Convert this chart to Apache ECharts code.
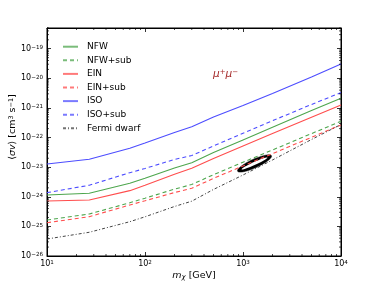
<!DOCTYPE html>
<html><head><meta charset="utf-8">
<script src="https://cdn.jsdelivr.net/npm/echarts@6/dist/echarts.min.js"></script>
<style>html,body{margin:0;padding:0;background:#fff}#c{width:379px;height:285px}</style>
</head><body><div id="c"></div>
<script>
// ---- data ----
const masses = [10, 27, 70, 100, 200, 300, 500, 1000, 2000, 5000, 10000];
const nfw    = [1.15e-24, 1.31e-24, 2.86e-24, 4.25e-24, 9.4e-24, 1.42e-23, 3.11e-23, 8.3e-23, 2.23e-22, 8.2e-22, 2.13e-21];
const nfwSub = [1.64e-25, 2.62e-25, 6.3e-25, 8.97e-25, 1.81e-24, 2.61e-24, 5.58e-24, 1.47e-23, 3.81e-23, 1.36e-22, 3.56e-22];
const ein    = [7.2e-25, 7.8e-25, 1.61e-24, 2.47e-24, 5.8e-24, 9.2e-24, 1.97e-23, 5.16e-23, 1.36e-22, 4.86e-22, 1.26e-21];
const einSub = [1.33e-25, 2.13e-25, 5.28e-25, 7.3e-25, 1.39e-24, 1.94e-24, 4.19e-24, 1.10e-23, 2.86e-23, 1.02e-22, 2.67e-22];
const iso    = [1.28e-23, 1.85e-23, 4.36e-23, 6.58e-23, 1.49e-22, 2.33e-22, 4.97e-22, 1.21e-21, 3.09e-21, 1.11e-20, 3.06e-20];
const isoSub = [1.38e-24, 2.45e-24, 6.52e-24, 9.04e-24, 1.82e-23, 2.48e-23, 5.2e-23, 1.40e-22, 3.70e-22, 1.31e-21, 3.29e-21];
const fermi  = [3.75e-26, 6.33e-26, 1.44e-25, 2.11e-25, 4.7e-25, 7.1e-25, 1.77e-24, 5.44e-24, 1.75e-23, 8.6e-23, 2.77e-22];
// best-fit contour: ends of its long axis
const fitMass  = [889, 1932];
const fitSigma = [7.45e-24, 2.39e-23];
// axes
const xTickExp = [1, 2, 3, 4];
const yTickExp = [-26, -25, -24, -23, -22, -21, -20, -19];
const yTopExp = -18.3;
const seriesNames = ['NFW', 'NFW+sub', 'EIN', 'EIN+sub', 'ISO', 'ISO+sub', 'Fermi dwarf'];

const FONT = 'DejaVu Sans';
const chart = echarts.init(document.getElementById('c'), null, {renderer: 'canvas'});

function sup(exp) {
  return '{b|10}{s|' + String(exp).replace('-', '\u2212') + '}';
}
const supRich = {
  b: {fontSize: 8, fontFamily: FONT, color: '#000', padding: [3, 0, 0, 0], verticalAlign: 'bottom', lineHeight: 8},
  s: {fontSize: 5.6, fontFamily: FONT, color: '#000', verticalAlign: 'top', lineHeight: 6}
};

function mk(name, vals, color, type, width) {
  return {
    name: name, type: 'line', symbol: 'none', showSymbol: false, z: 3,
    data: masses.map((m, i) => [m, Math.log10(vals[i])]),
    lineStyle: {color: color, width: width || 1.1, type: type},
    itemStyle: {color: color}
  };
}

// minor tick positions (axis decoration)
const xMinor = [];
for (let e = xTickExp[0]; e < xTickExp[xTickExp.length - 1]; e++)
  for (let k = 2; k <= 9; k++) xMinor.push([k * Math.pow(10, e), yTickExp[0]]);
const yMinor = [];
for (let e = yTickExp[0]; e <= yTickExp[yTickExp.length - 1]; e++)
  for (let k = 2; k <= 9; k++) { const v = e + Math.log10(k); if (v < yTopExp) yMinor.push([10, v]); }

const tickLine = {stroke: '#000', lineWidth: 0.7};

const option = {
  animation: false,
  backgroundColor: '#fff',
  grid: {left: 47, right: 38, top: 28, bottom: 29, show: true, borderColor: '#000', borderWidth: 1, backgroundColor: 'transparent'},
  xAxis: [
    {type: 'log', logBase: 10, min: 10, max: 10000, interval: 1,
     axisLine: {show: true, lineStyle: {color: '#000', width: 1}},
     axisTick: {show: true, inside: true, length: 4, lineStyle: {color: '#000', width: 0.8}},
     splitLine: {show: false}, minorTick: {show: false},
     axisLabel: {margin: 4, formatter: v => sup(Math.round(Math.log10(v))), rich: supRich}},
    {type: 'log', logBase: 10, min: 10, max: 10000, interval: 1, position: 'top',
     axisLine: {show: true, lineStyle: {color: '#000', width: 1}},
     axisTick: {show: true, inside: true, length: 4, lineStyle: {color: '#000', width: 0.8}},
     splitLine: {show: false}, axisLabel: {show: false}}
  ],
  yAxis: [
    {type: 'value', min: yTickExp[0], max: yTopExp, interval: 1,
     axisLine: {show: true, lineStyle: {color: '#000', width: 1}},
     axisTick: {show: true, inside: true, length: 4, lineStyle: {color: '#000', width: 0.8}},
     splitLine: {show: false},
     axisLabel: {margin: 4, showMaxLabel: false,
       formatter: v => (Math.abs(v - Math.round(v)) < 1e-6 ? sup(Math.round(v)) : ''), rich: supRich}},
    {type: 'value', min: yTickExp[0], max: yTopExp, interval: 1, position: 'right',
     axisLine: {show: true, lineStyle: {color: '#000', width: 1}},
     axisTick: {show: true, inside: true, length: 4, lineStyle: {color: '#000', width: 0.8}},
     splitLine: {show: false}, axisLabel: {show: false}}
  ],
  legend: {
    data: seriesNames, orient: 'vertical', left: 57, top: 36.7,
    itemWidth: 15, itemHeight: 10, itemGap: 3.6,
    itemStyle: {opacity: 0},
    lineStyle: {opacity: 0.75},
    textStyle: {fontSize: 9, fontFamily: FONT, color: '#000', padding: [0, 0, 0, 4], lineHeight: 10},
    selectedMode: false
  },
  series: [
    {type: 'custom', silent: true, z: 1, clip: false,
     dimensions: ['m1', 'v1', 'm2', 'v2'], encode: {x: [0, 2], y: [1, 3]},
     data: [[fitMass[0], Math.log10(fitSigma[0]), fitMass[1], Math.log10(fitSigma[1])]],
     renderItem: function (params, api) {
       const p1 = api.coord([api.value(0), api.value(1)]);
       const p2 = api.coord([api.value(2), api.value(3)]);
       const cx = (p1[0] + p2[0]) / 2, cy = (p1[1] + p2[1]) / 2;
       const th = Math.atan2(p1[1] - p2[1], p2[0] - p1[0]);
       const L = Math.hypot(p2[0] - p1[0], p2[1] - p1[1]) / 2;
       function ell(rx, ry) {
         const pts = [];
         for (let i = 0; i < 48; i++) {
           const t = i / 48 * Math.PI * 2;
           const a = rx * Math.cos(t), b = ry * Math.sin(t);
           pts.push([cx + a * Math.cos(th) + b * Math.sin(th), cy - a * Math.sin(th) + b * Math.cos(th)]);
         }
         return pts;
       }
       return {type: 'group', children: [
         {type: 'polygon', shape: {points: ell(L + 0.5, 4.3)}, style: {fill: '#000', stroke: '#000', lineWidth: 0.5}},
         {type: 'polygon', shape: {points: ell(L - 4, 1.5)}, style: {fill: '#fff'}}
       ]};
     }},
    mk('NFW', nfw, '#4da64d', 'solid'),
    mk('NFW+sub', nfwSub, '#4da64d', [4, 3]),
    mk('EIN', ein, '#ff4d4d', 'solid'),
    mk('EIN+sub', einSub, '#ff4d4d', [4, 3]),
    mk('ISO', iso, '#4d4dff', 'solid'),
    mk('ISO+sub', isoSub, '#4d4dff', [4, 3]),
    mk('Fermi dwarf', fermi, '#444', [3, 2, 1, 2], 1),
    {type: 'custom', silent: true, z: 5, clip: false, data: xMinor,
     renderItem: function (params, api) {
       const p = api.coord([api.value(0), api.value(1)]);
       const cs = params.coordSys;
       const b = cs.y + cs.height, t = cs.y;
       return {type: 'group', children: [
         {type: 'line', shape: {x1: p[0], y1: b, x2: p[0], y2: b - 2}, style: tickLine},
         {type: 'line', shape: {x1: p[0], y1: t, x2: p[0], y2: t + 2}, style: tickLine}
       ]};
     }},
    {type: 'custom', silent: true, z: 5, clip: false, data: yMinor,
     renderItem: function (params, api) {
       const p = api.coord([api.value(0), api.value(1)]);
       const cs = params.coordSys;
       const l = cs.x, r = cs.x + cs.width;
       return {type: 'group', children: [
         {type: 'line', shape: {x1: l, y1: p[1], x2: l + 2, y2: p[1]}, style: tickLine},
         {type: 'line', shape: {x1: r, y1: p[1], x2: r - 2, y2: p[1]}, style: tickLine}
       ]};
     }}
  ],
  graphic: [
    {type: 'text', x: 13, y: 127, rotation: Math.PI / 2, silent: true,
     style: {text: '{n|\u27E8}{i|\u03C3v}{n|\u27E9 [cm}{p|3}{n| s}{p|\u22121}{n|]}',
       align: 'center', verticalAlign: 'middle',
       rich: {
         n: {fontSize: 9.5, fontFamily: FONT, fill: '#000', padding: [3, 0, 0, 0], verticalAlign: 'bottom', lineHeight: 10},
         i: {fontSize: 9.5, fontFamily: FONT, fontStyle: 'italic', fill: '#000', padding: [3, 0, 0, 0], verticalAlign: 'bottom', lineHeight: 10},
         p: {fontSize: 6.5, fontFamily: FONT, fill: '#000', verticalAlign: 'top', lineHeight: 7}
       }}},
    {type: 'text', x: 194, y: 276, silent: true,
     style: {text: '{i|m}{d|\u03C7}{n| [GeV]}', align: 'center', verticalAlign: 'middle',
       rich: {
         n: {fontSize: 9.5, fontFamily: FONT, fill: '#000', padding: [0, 0, 3, 0], verticalAlign: 'top', lineHeight: 10},
         i: {fontSize: 9.5, fontFamily: FONT, fontStyle: 'italic', fill: '#000', padding: [0, 0, 3, 0], verticalAlign: 'top', lineHeight: 10},
         d: {fontSize: 7, fontFamily: FONT, fontStyle: 'italic', fill: '#000', verticalAlign: 'bottom', lineHeight: 7}
       }}},
    {type: 'text', x: 213, y: 74, silent: true,
     style: {text: '{i|\u03BC}{p|+}{i|\u03BC}{p|\u2212}', align: 'left', verticalAlign: 'middle',
       rich: {
         i: {fontSize: 10.5, fontFamily: FONT, fontStyle: 'italic', fill: '#a52a2a', padding: [4, 0, 0, 0], verticalAlign: 'bottom', lineHeight: 11},
         p: {fontSize: 7, fontFamily: FONT, fill: '#a52a2a', verticalAlign: 'top', lineHeight: 8}
       }}}
  ]
};
chart.setOption(option);
</script>
</body></html>
